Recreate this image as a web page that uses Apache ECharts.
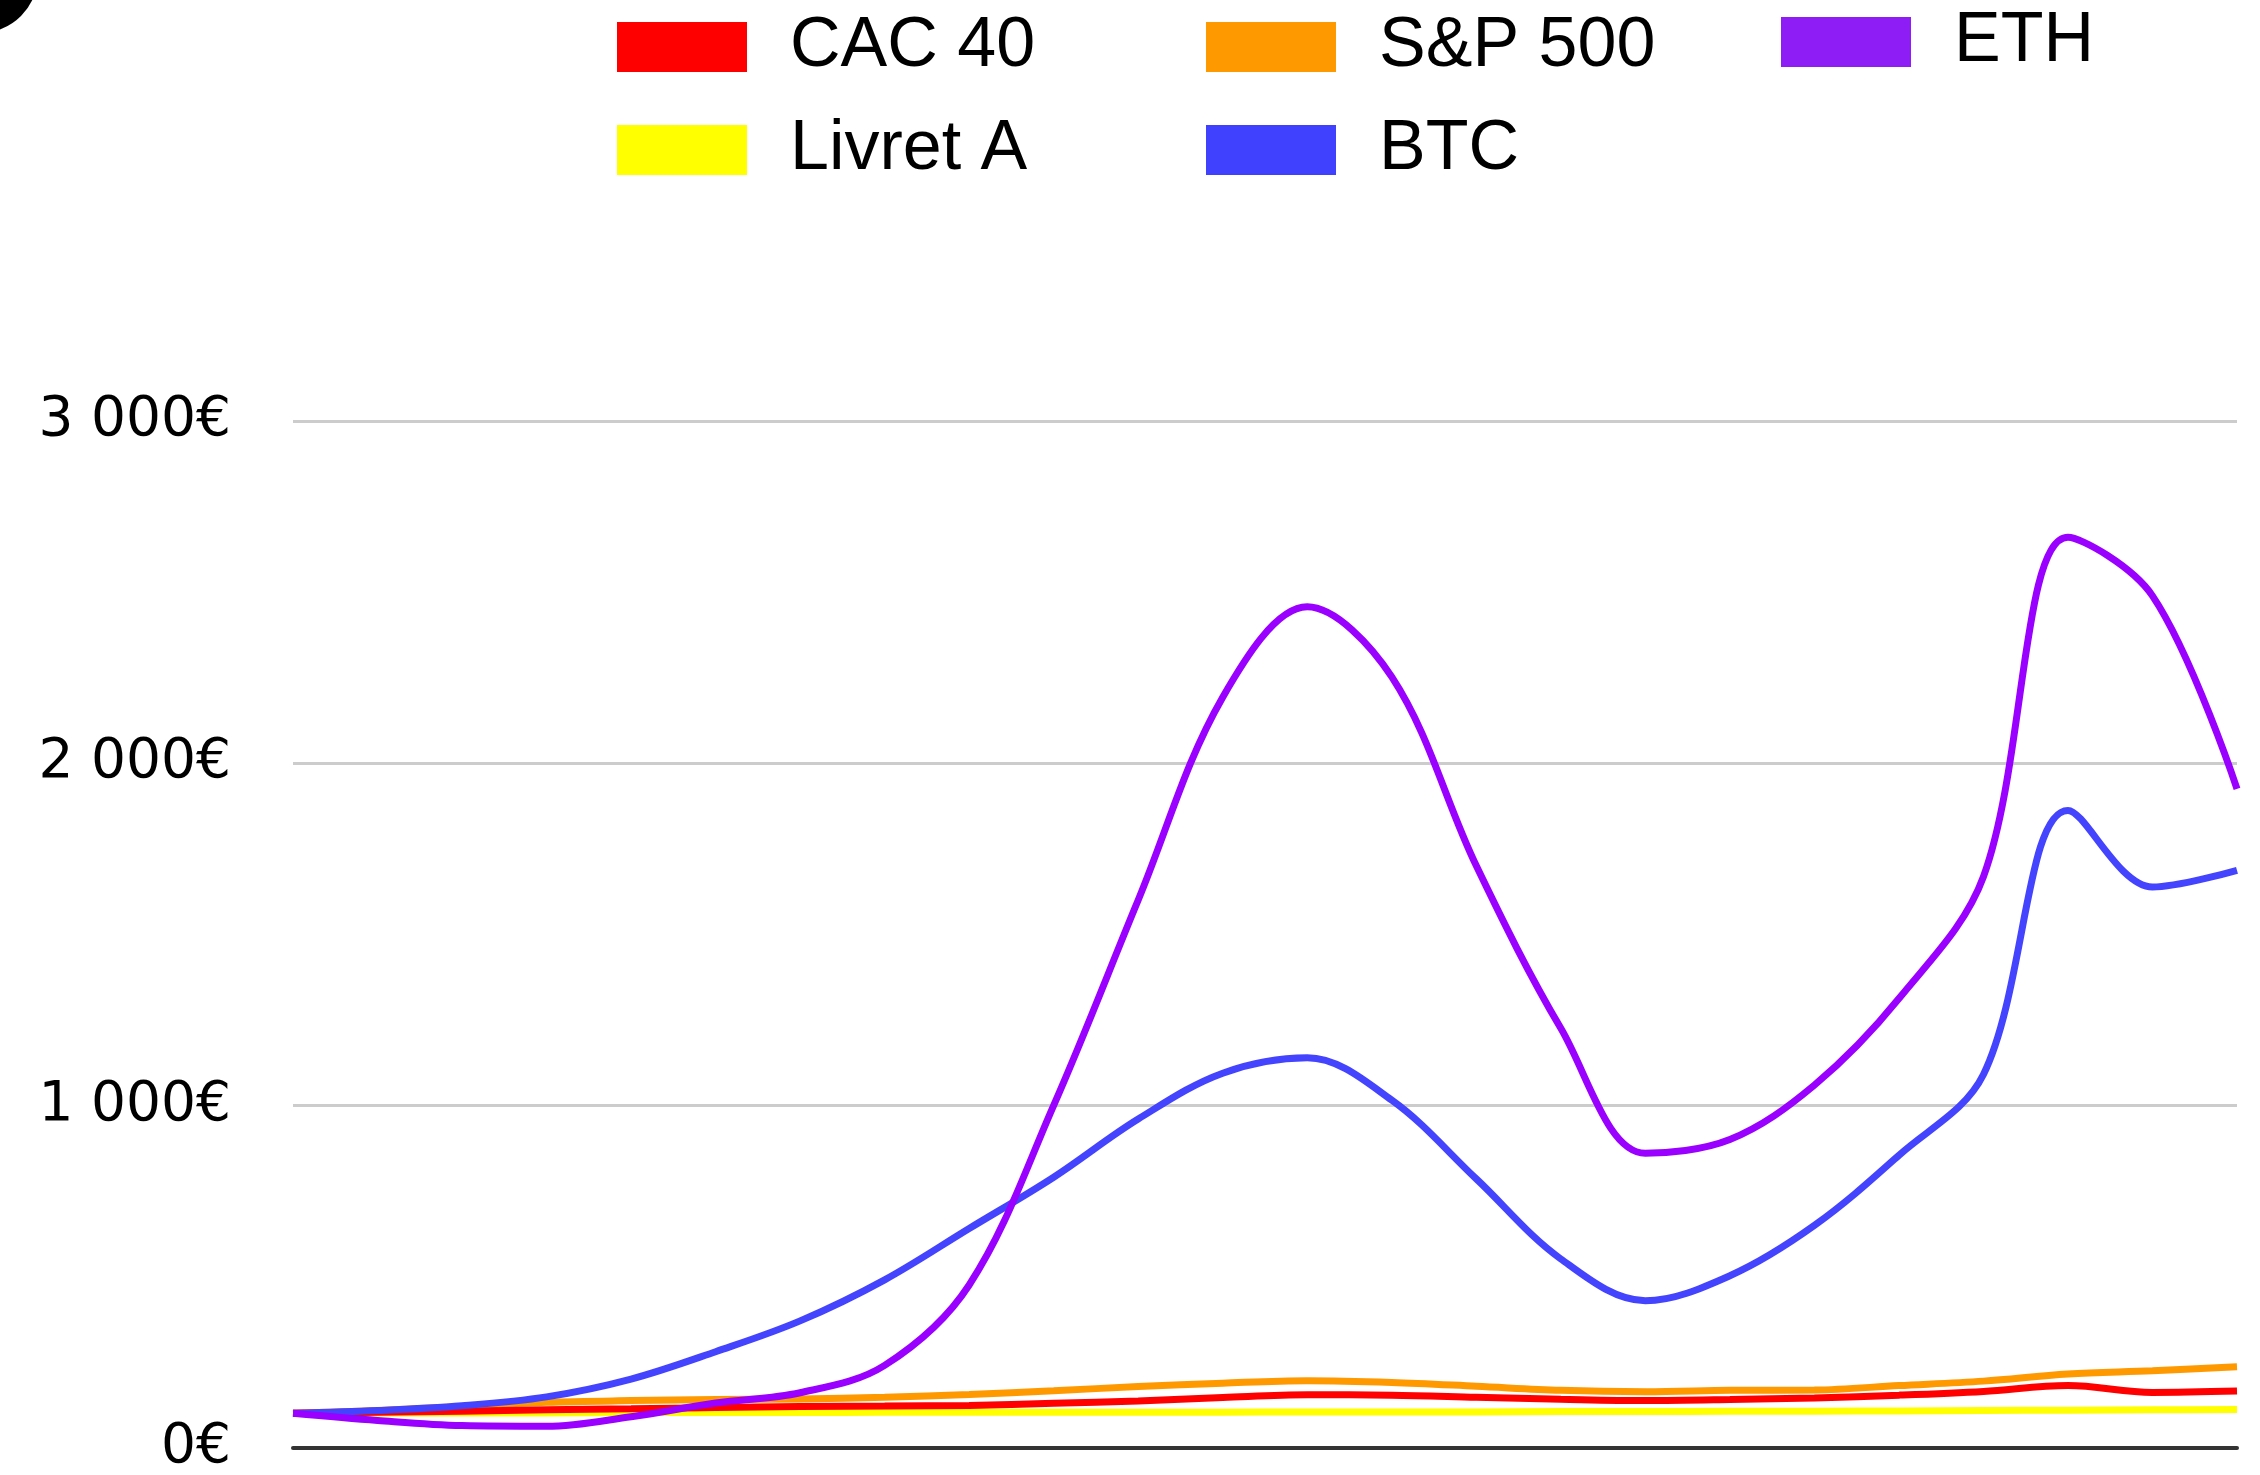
<!DOCTYPE html>
<html>
<head>
<meta charset="utf-8">
<script src="https://cdn.jsdelivr.net/npm/echarts@6/dist/echarts.min.js"></script>
<style>
  html, body { margin: 0; padding: 0; background: #ffffff; }
  #chart { width: 2260px; height: 1475px; }
</style>
</head>
<body>
<div id="chart"></div>
<script>
// ---- data ----
const periods = ['1','2','3','4','5','6','7','8','9','10','11','12',
                 '13','14','15','16','17','18','19','20','21','22','23','24'];
const cac40   = [100,103,106,110,113,117,120,121,123,129,136,146,154,153,147,141,137,140,145,153,164,181,161,165];
const livretA = [100,101,101,101,102,102,102,103,103,103,103,103,104,104,104,105,105,106,106,107,108,109,110,111];
const sp500   = [100,108,120,132,137,140,142,147,155,166,178,188,195,190,179,167,163,167,168,181,194,215,224,236];
const btc     = [100,108,122,148,200,280,370,490,640,790,960,1094,1139,1015,785,551,429,502,649,854,1090,1862,1638,1687];
const eth     = [100,79,64,62,90,130,160,240,475,1000,1600,2193,2457,2252,1700,1225,860,900,1059,1312,1668,2660,2489,1925];
const yTickLabels = ['0€','1 000€','2 000€','3 000€'];

const chart = echarts.init(document.getElementById('chart'), null, {renderer: 'canvas'});

function line(name, data, color) {
  return {
    name: name, type: 'line', data: data, smooth: 0.35,
    showSymbol: false, symbol: 'none',
    lineStyle: { color: color, width: 7 },
    itemStyle: { color: color },
    emphasis: { disabled: true }
  };
}

const legendText = { fontFamily: 'Liberation Sans', fontSize: 70, color: '#000', padding: [0,0,0,38] };
function legend(left, top, items) {
  return {
    orient: 'vertical', left: left, top: top, padding: 0,
    itemWidth: 130, itemHeight: 50, itemGap: 33, icon: 'rect',
    textStyle: legendText, selectedMode: false,
    data: items
  };
}

chart.setOption({
  animation: false,
  backgroundColor: '#ffffff',
  graphic: [{
    type: 'circle', shape: { cx: -20, cy: -25, r: 58 },
    style: { fill: '#000000' }, silent: true
  }],
  legend: [
    legend(617, 12, [{name: 'CAC 40'}, {name: 'Livret A'}]),
    legend(1206, 12, [{name: 'S&P 500'}, {name: 'BTC', itemStyle: {color: '#4040ff'}}]),
    legend(1781, 7, [{name: 'ETH', itemStyle: {color: '#8e1cf5'}}])
  ],
  grid: { left: 293, right: 23, top: 421, bottom: 23, containLabel: false },
  xAxis: {
    type: 'category', data: periods, boundaryGap: false,
    axisLine: { show: true, lineStyle: { color: '#333333', width: 4 } },
    axisTick: { show: false }, axisLabel: { show: false }, splitLine: { show: false }
  },
  yAxis: {
    type: 'value', min: 0, max: 3000, interval: 1000,
    axisLine: { show: false }, axisTick: { show: false },
    splitLine: { show: true, lineStyle: { color: '#cccccc', width: 3 } },
    axisLabel: {
      margin: 62, color: '#000', fontFamily: 'DejaVu Sans', fontSize: 55,
      formatter: function (v, i) { return yTickLabels[i]; }
    }
  },
  series: [
    line('Livret A', livretA, '#ffff00'),
    line('S&P 500', sp500, '#ff9900'),
    line('CAC 40', cac40, '#ff0000'),
    line('BTC', btc, '#4444ff'),
    line('ETH', eth, '#9900ff')
  ]
});
</script>
</body>
</html>
